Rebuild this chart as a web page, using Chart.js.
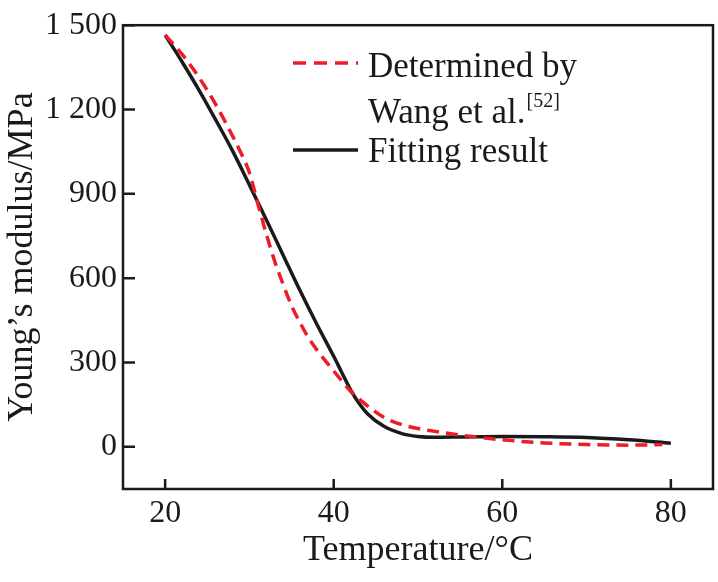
<!DOCTYPE html>
<html>
<head>
<meta charset="utf-8">
<script src="https://cdn.jsdelivr.net/npm/chart.js@4.4.1/dist/chart.umd.min.js"></script>
<style>
html,body{margin:0;padding:0;background:#fff;}
#wrap{width:718px;height:582px;}
</style>
</head>
<body>
<div id="wrap"><canvas id="c" width="718" height="582"></canvas></div>
<script>
// Temperature (°C) and Young's modulus (MPa)
const wangT = [20, 21, 22, 24, 26, 28, 29, 30, 31, 32, 33, 34, 35, 36, 37, 38, 40, 42, 44, 46, 48, 50, 52, 55, 60, 65, 70, 75, 79];
const wangE = [1465, 1432, 1397, 1315, 1218, 1106, 1045, 975, 865, 757, 660, 578, 502, 442, 388, 345, 270, 198, 146, 104, 80, 65, 55, 42, 25, 14, 8, 6, 8];
const fitT = [20, 22, 24, 26, 28, 30, 32, 34, 36, 38, 40, 41, 42, 43, 44, 46, 48, 50, 52, 55, 60, 65, 70, 75, 80];
const fitE = [1465, 1370, 1270, 1163, 1053, 932, 808, 682, 556, 436, 322, 262, 203, 155, 118, 72, 48, 37, 34, 35, 37, 36, 33, 25, 13];
const xTicks = [20, 40, 60, 80];
const yTicks = [0, 300, 600, 900, 1200, 1500];
const legendLabels = ['Determined by', 'Wang et al.', '[52]', 'Fitting result'];
const xTitle = 'Temperature/°C';
const yTitle = 'Young’s modulus/MPa';

const FONT = "'Liberation Serif', 'Times New Roman', Times, serif";
const INK = '#1a1a1a';
const RED = '#ec1c2a';

const toPts = (xs, ys) => xs.map((x, i) => ({x: x, y: ys[i]}));
const fmt = v => v >= 1000 ? Math.floor(v / 1000) + ' ' + String(v % 1000).padStart(3, '0') : String(v);

const frame = {
  id: 'frame',
  afterDraw(chart) {
    const {ctx, chartArea: a, scales: {x, y}} = chart;
    ctx.save();
    ctx.strokeStyle = INK;
    ctx.lineWidth = 2.5;
    ctx.strokeRect(a.left, a.top, a.right - a.left, a.bottom - a.top);
    ctx.beginPath();
    xTicks.forEach(v => {
      const px = x.getPixelForValue(v);
      ctx.moveTo(px, a.bottom);
      ctx.lineTo(px, a.bottom - 10);
    });
    yTicks.forEach(v => {
      const py = y.getPixelForValue(v);
      ctx.moveTo(a.left, py);
      ctx.lineTo(a.left + 12, py);
    });
    ctx.stroke();

    // legend
    const lx = a.left + 170, tx = a.left + 245;
    ctx.lineWidth = 3.5;
    ctx.strokeStyle = RED;
    ctx.setLineDash([13, 8]);
    ctx.beginPath();
    ctx.moveTo(lx, 63); ctx.lineTo(lx + 65, 63);
    ctx.stroke();
    ctx.setLineDash([]);
    ctx.strokeStyle = INK;
    ctx.beginPath();
    ctx.moveTo(lx, 150); ctx.lineTo(lx + 65, 150);
    ctx.stroke();
    ctx.fillStyle = INK;
    ctx.textBaseline = 'alphabetic';
    ctx.textAlign = 'left';
    ctx.font = '35px ' + FONT;
    ctx.fillText(legendLabels[0], tx, 77);
    ctx.fillText(legendLabels[1], tx, 123);
    const w = ctx.measureText(legendLabels[1]).width;
    ctx.fillText(legendLabels[3], tx, 162);
    ctx.font = '20px ' + FONT;
    ctx.fillText(legendLabels[2], tx + w + 1, 107);
    ctx.restore();
  }
};

new Chart(document.getElementById('c'), {
  type: 'line',
  data: {
    datasets: [
      {
        label: 'Determined by Wang et al.[52]',
        data: toPts(wangT, wangE),
        borderColor: RED,
        borderWidth: 3.5,
        borderDash: [12, 7],
        pointRadius: 0,
        cubicInterpolationMode: 'monotone',
        fill: false
      },
      {
        label: 'Fitting result',
        data: toPts(fitT, fitE),
        borderColor: INK,
        borderWidth: 3.5,
        pointRadius: 0,
        cubicInterpolationMode: 'monotone',
        fill: false
      }
    ]
  },
  options: {
    responsive: false,
    animation: false,
    devicePixelRatio: 1,
    layout: {padding: {left: 0, top: 15, right: 5, bottom: 0}},
    plugins: {legend: {display: false}, tooltip: {enabled: false}},
    scales: {
      x: {
        type: 'linear',
        min: 15, max: 85,
        afterBuildTicks: s => { s.ticks = xTicks.map(v => ({value: v})); },
        afterFit: s => { s.height = 93; },
        grid: {display: false, drawTicks: false},
        border: {display: false},
        ticks: {color: INK, font: {family: FONT, size: 32}, padding: 5, maxRotation: 0},
        title: {display: true, text: xTitle, color: INK, font: {family: FONT, size: 36}, padding: {top: 0, bottom: 10}}
      },
      y: {
        type: 'linear',
        min: -150, max: 1500,
        afterBuildTicks: s => { s.ticks = yTicks.map(v => ({value: v})); },
        afterFit: s => { s.width = 123; },
        grid: {display: false, drawTicks: false},
        border: {display: false},
        ticks: {color: INK, font: {family: FONT, size: 32}, padding: 6, callback: v => fmt(v)},
        title: {display: true, text: yTitle, color: INK, font: {family: FONT, size: 36}, padding: {top: 1, bottom: 0}}
      }
    }
  },
  plugins: [frame]
});
</script>
</body>
</html>
